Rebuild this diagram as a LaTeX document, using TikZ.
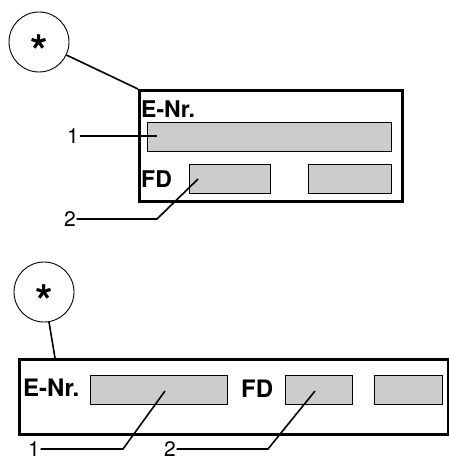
\documentclass[tikz,border=0pt]{standalone}
\usepackage{fontspec}
\setmainfont{TeX Gyre Heros}
\definecolor{feldgrau}{HTML}{CCCCCC}
\tikzset{
  kreis/.style={draw, circle, line width=0.9pt, minimum size=60pt, inner sep=0pt},
  stern/.style={font=\fontsize{45}{45}\selectfont\bfseries, inner sep=0pt},
  rahmen/.style={draw, line width=2.6pt, anchor=north west, inner sep=0pt},
  feld/.style={draw, fill=feldgrau, line width=1.3pt, anchor=north west, minimum height=29pt, inner sep=0pt},
  titel/.style={font=\fontsize{23}{23}\selectfont\bfseries, anchor=base west, inner sep=0pt},
  nummer/.style={font=\fontsize{21}{21}\selectfont, inner sep=0.5pt},
  linie/.style={line width=1.6pt}
}
\begin{document}
\begin{tikzpicture}[x=1pt,y=-1pt]
\useasboundingbox (0,0) rectangle (448,460);
% Typenschild hoch
\begin{scope}
\node[kreis] (k1) at (39,42) {};
\node[stern, anchor=base] (s1) at ([yshift=-25pt]k1.center) {*};
\node[rahmen, minimum width=263pt, minimum height=111pt] (r1) at (138,89) {};
\draw[linie] (k1) -- (r1.north west);
\node[titel] (e1) at (141,117) {E-Nr.};
\node[titel] (d1) at (141,187) {FD};
\foreach \x/\y/\w/\name in {147/122/244/f1,189/164/81/f2,308/164/83/f3} {
  \node[feld, minimum width=\w pt] (\name) at (\x,\y) {};
}
\node[nummer] (n1) at (73,136) {1};
\coordinate (p1) at (157,136);
\draw[linie] (n1) -- (p1);
\node[nummer] (n2) at (70,219) {2};
\coordinate (q2) at (157,219);
\coordinate (p2) at (198,179);
\draw[linie] (n2) -- (q2) -- (p2);
\end{scope}
% Typenschild quer
\begin{scope}
\node[kreis] (k2) at (44,292) {};
\node[stern, anchor=base] (s2) at ([yshift=-25pt]k2.center) {*};
\node[rahmen, minimum width=429pt, minimum height=75pt] (r2) at (18,358) {};
\coordinate (a2) at (55,358);
\draw[linie] (k2) -- (a2);
\node[titel, font=\fontsize{24}{24}\selectfont\bfseries] (e2) at (23,396) {E-Nr.};
\node[titel, font=\fontsize{24}{24}\selectfont\bfseries] (d2) at (241,397) {FD};
\foreach \x/\y/\w/\name in {90/375/137/g1,285/375/67/g2,374/375/68/g3} {
  \node[feld, minimum width=\w pt] (\name) at (\x,\y) {};
}
\node[nummer] (n3) at (34,449) {1};
\coordinate (q3) at (123,449);
\coordinate (p3) at (165,391);
\draw[linie] (n3) -- (q3) -- (p3);
\node[nummer] (n4) at (170,449) {2};
\coordinate (q4) at (268,449);
\coordinate (p4) at (315,391);
\draw[linie] (n4) -- (q4) -- (p4);
\end{scope}
\end{tikzpicture}
\end{document}
